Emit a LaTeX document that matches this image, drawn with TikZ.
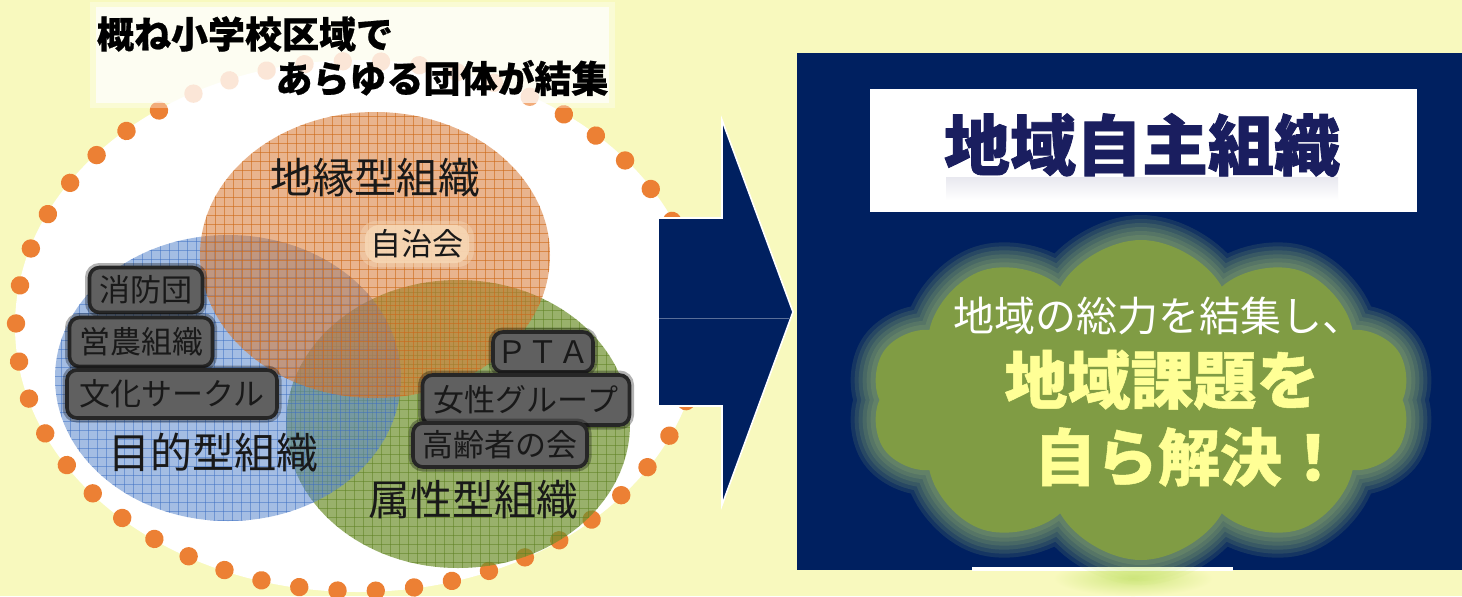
\documentclass[tikz,border=0pt]{standalone}
\usepackage{fontspec}
\newfontfamily\jp{Noto Sans CJK JP}
\usetikzlibrary{shapes.symbols,decorations.markings}
\definecolor{bg}{RGB}{248,249,190}
\definecolor{navy}{RGB}{0,32,96}
\definecolor{dotc}{RGB}{236,128,52}
\definecolor{orfill}{RGB}{215,120,50}
\definecolor{orgrid}{RGB}{205,105,25}
\definecolor{blfill}{RGB}{90,135,205}
\definecolor{blgrid}{RGB}{60,110,195}
\definecolor{grfill}{RGB}{110,145,45}
\definecolor{grgrid}{RGB}{95,130,35}
\definecolor{labgray}{RGB}{96,96,96}
\definecolor{cloudc}{RGB}{128,156,68}
\definecolor{glowc}{RGB}{200,228,115}
\definecolor{lemon}{RGB}{255,255,150}
\definecolor{titlec}{RGB}{26,30,95}
\definecolor{peach}{RGB}{246,214,180}
\tikzset{
  graybox/.style={fill=labgray, draw=black!85, line width=1.8pt, rounded corners=5pt,
    preaction={draw=black, line width=4.5pt, opacity=.3},
    inner sep=0pt, text=black!90, font=\jp\fontsize{15.5}{15.5}\selectfont},
  circlabel/.style={font=\jp\fontsize{21}{21}\selectfont, text=black!90, inner sep=0pt},
  headline/.style={font=\jp\bfseries\addfontfeature{FakeBold=0.6}\fontsize{18.5}{18.5}\selectfont, text=black, inner sep=0pt},
  bigtitle/.style={font=\jp\bfseries\addfontfeature{FakeBold=1.2}\fontsize{33}{33}\selectfont, inner sep=0pt},
  cloudshape/.style={cloud, cloud puffs=10, cloud puff arc=120, cloud ignores aspect,
        minimum width=270pt, minimum height=160pt},
}
\begin{document}
\begin{tikzpicture}[x=0.5pt,y=-0.5pt]
\useasboundingbox (0,0) rectangle (1462,596);
\fill[bg] (0,0) rectangle (1462,596);

% big white ellipse with orange dots
\fill[white] (358,326) ellipse [x radius=343, y radius=266];
\path[postaction={decorate}, decoration={markings,
   mark=between positions 0 and 1 step 19.2pt with {\fill[dotc] (0,0) circle (4.6pt);}}]
   (358,326) ellipse [x radius=342, y radius=265];

% green circle
\begin{scope}
  \clip (458,424) ellipse [x radius=172, y radius=144];
  \fill[grfill, opacity=.7] (280,270) rectangle (640,580);
  \foreach \gx in {282,291,...,640} \draw[grgrid, line width=.35pt, opacity=.55] (\gx,270) -- (\gx,580);
  \foreach \gy in {274,283,...,580} \draw[grgrid, line width=.35pt, opacity=.55] (280,\gy) -- (640,\gy);
\end{scope}
% blue circle
\begin{scope}
  \clip (228,378) ellipse [x radius=173, y radius=143];
  \fill[blfill, opacity=.55] (50,230) rectangle (410,530);
  \foreach \gx in {52,61,...,410} \draw[blgrid, line width=.35pt, opacity=.5] (\gx,230) -- (\gx,530);
  \foreach \gy in {232,241,...,530} \draw[blgrid, line width=.35pt, opacity=.5] (50,\gy) -- (410,\gy);
\end{scope}
% orange circle
\begin{scope}
  \clip (375,255) ellipse [x radius=175, y radius=143];
  \fill[orfill, opacity=.55] (195,105) rectangle (555,405);
  \foreach \gx in {197,206,...,555} \draw[orgrid, line width=.35pt, opacity=.6] (\gx,105) -- (\gx,405);
  \foreach \gy in {107,116,...,405} \draw[orgrid, line width=.35pt, opacity=.6] (195,\gy) -- (555,\gy);
\end{scope}

% circle labels
\node[circlabel] (chien) at (375,178) {地縁型組織};
\node[circlabel] (mokuteki) at (213,453) {目的型組織};
\node[circlabel] (zokusei) at (473,500) {属性型組織};
\node[fill=peach, rounded corners=8pt, minimum width=57pt, minimum height=23pt, opacity=.45] (jichiglow) at (417,244) {};
\node[fill=peach, rounded corners=7pt, minimum width=52pt, minimum height=19pt, opacity=.9] (jichibg) at (417,244) {};
\node[font=\jp\fontsize{15.5}{15.5}\selectfont, text=black!90, inner sep=0pt] (jichi) at (417,244) {自治会};

% gray labels
\node[graybox, minimum width=56.5pt, minimum height=22.5pt] (shobo) at (146,290) {消防団};
\node[graybox, minimum width=71.5pt, minimum height=24.5pt] (einou) at (141,342) {営農組織};
\node[graybox, minimum width=105pt, minimum height=24pt] (bunka) at (172,394) {文化サークル};
\node[graybox, minimum width=50pt, minimum height=20pt] (pta) at (543,352) {ＰＴＡ};
\node[graybox, minimum width=103.5pt, minimum height=25pt] (josei) at (526,400) {女性グループ};
\node[graybox, minimum width=87pt, minimum height=22pt] (koreisha) at (500,445) {高齢者の会};

% headline box top-left
\fill[white, opacity=.35] (90,2) rectangle (615,108);
\fill[white, opacity=.7] (96,7) rectangle (609,103);
\node[headline] (h1) at (245,34) {概ね小学校区域で};
\node[headline] (h2) at (442,78) {あらゆる団体が結集};

% arrow
\fill[navy, draw=white, line width=.8pt] (658,218) -- (722,218) -- (722,120) -- (793,312)
   -- (722,505) -- (722,406) -- (658,406) -- cycle;
\draw[white!35!navy, line width=.4pt] (659,318) -- (789,318);

% right panel
\fill[navy] (797,53) rectangle (1462,570);
\begin{scope}
  \clip (1000,571) rectangle (1260,596);
  \shade[inner color=glowc!85!bg, outer color=bg] (1133,578) ellipse [x radius=80, y radius=18];
\end{scope}
\fill[white] (972,567) rectangle (1233,571);
\fill[white] (870,89) rectangle (1417,212);
% faint reflection band under the title
\shade[top color=titlec!10, bottom color=white] (946,177) rectangle (1338,200);
\node[bigtitle, text=titlec] (title) at (1142,145) {地域自主組織};

% cloud with glow
\foreach \w [count=\i] in {25pt,21pt,17pt,13pt,9pt,5pt}
  \node[cloudshape, draw=glowc, line width=\w, draw opacity=.11] (glow\i) at (1141,400) {};
\node[cloudshape, fill=cloudc] (cloud) at (1141,400) {};

\node[font=\jp\fontsize{20.5}{20.5}\selectfont, text=white, inner sep=0pt] (c1) at (1158,316) {地域の総力を結集し、};
\node[font=\jp\bfseries\addfontfeature{FakeBold=0.8}\fontsize{31.5}{31.5}\selectfont, text=lemon, inner sep=0pt] (c2) at (1162,380) {地域課題を};
\node[font=\jp\bfseries\addfontfeature{FakeBold=0.8}\fontsize{31}{31}\selectfont, text=lemon, inner sep=0pt] (c3) at (1189,457) {自ら解決！};
\end{tikzpicture}
\end{document}
